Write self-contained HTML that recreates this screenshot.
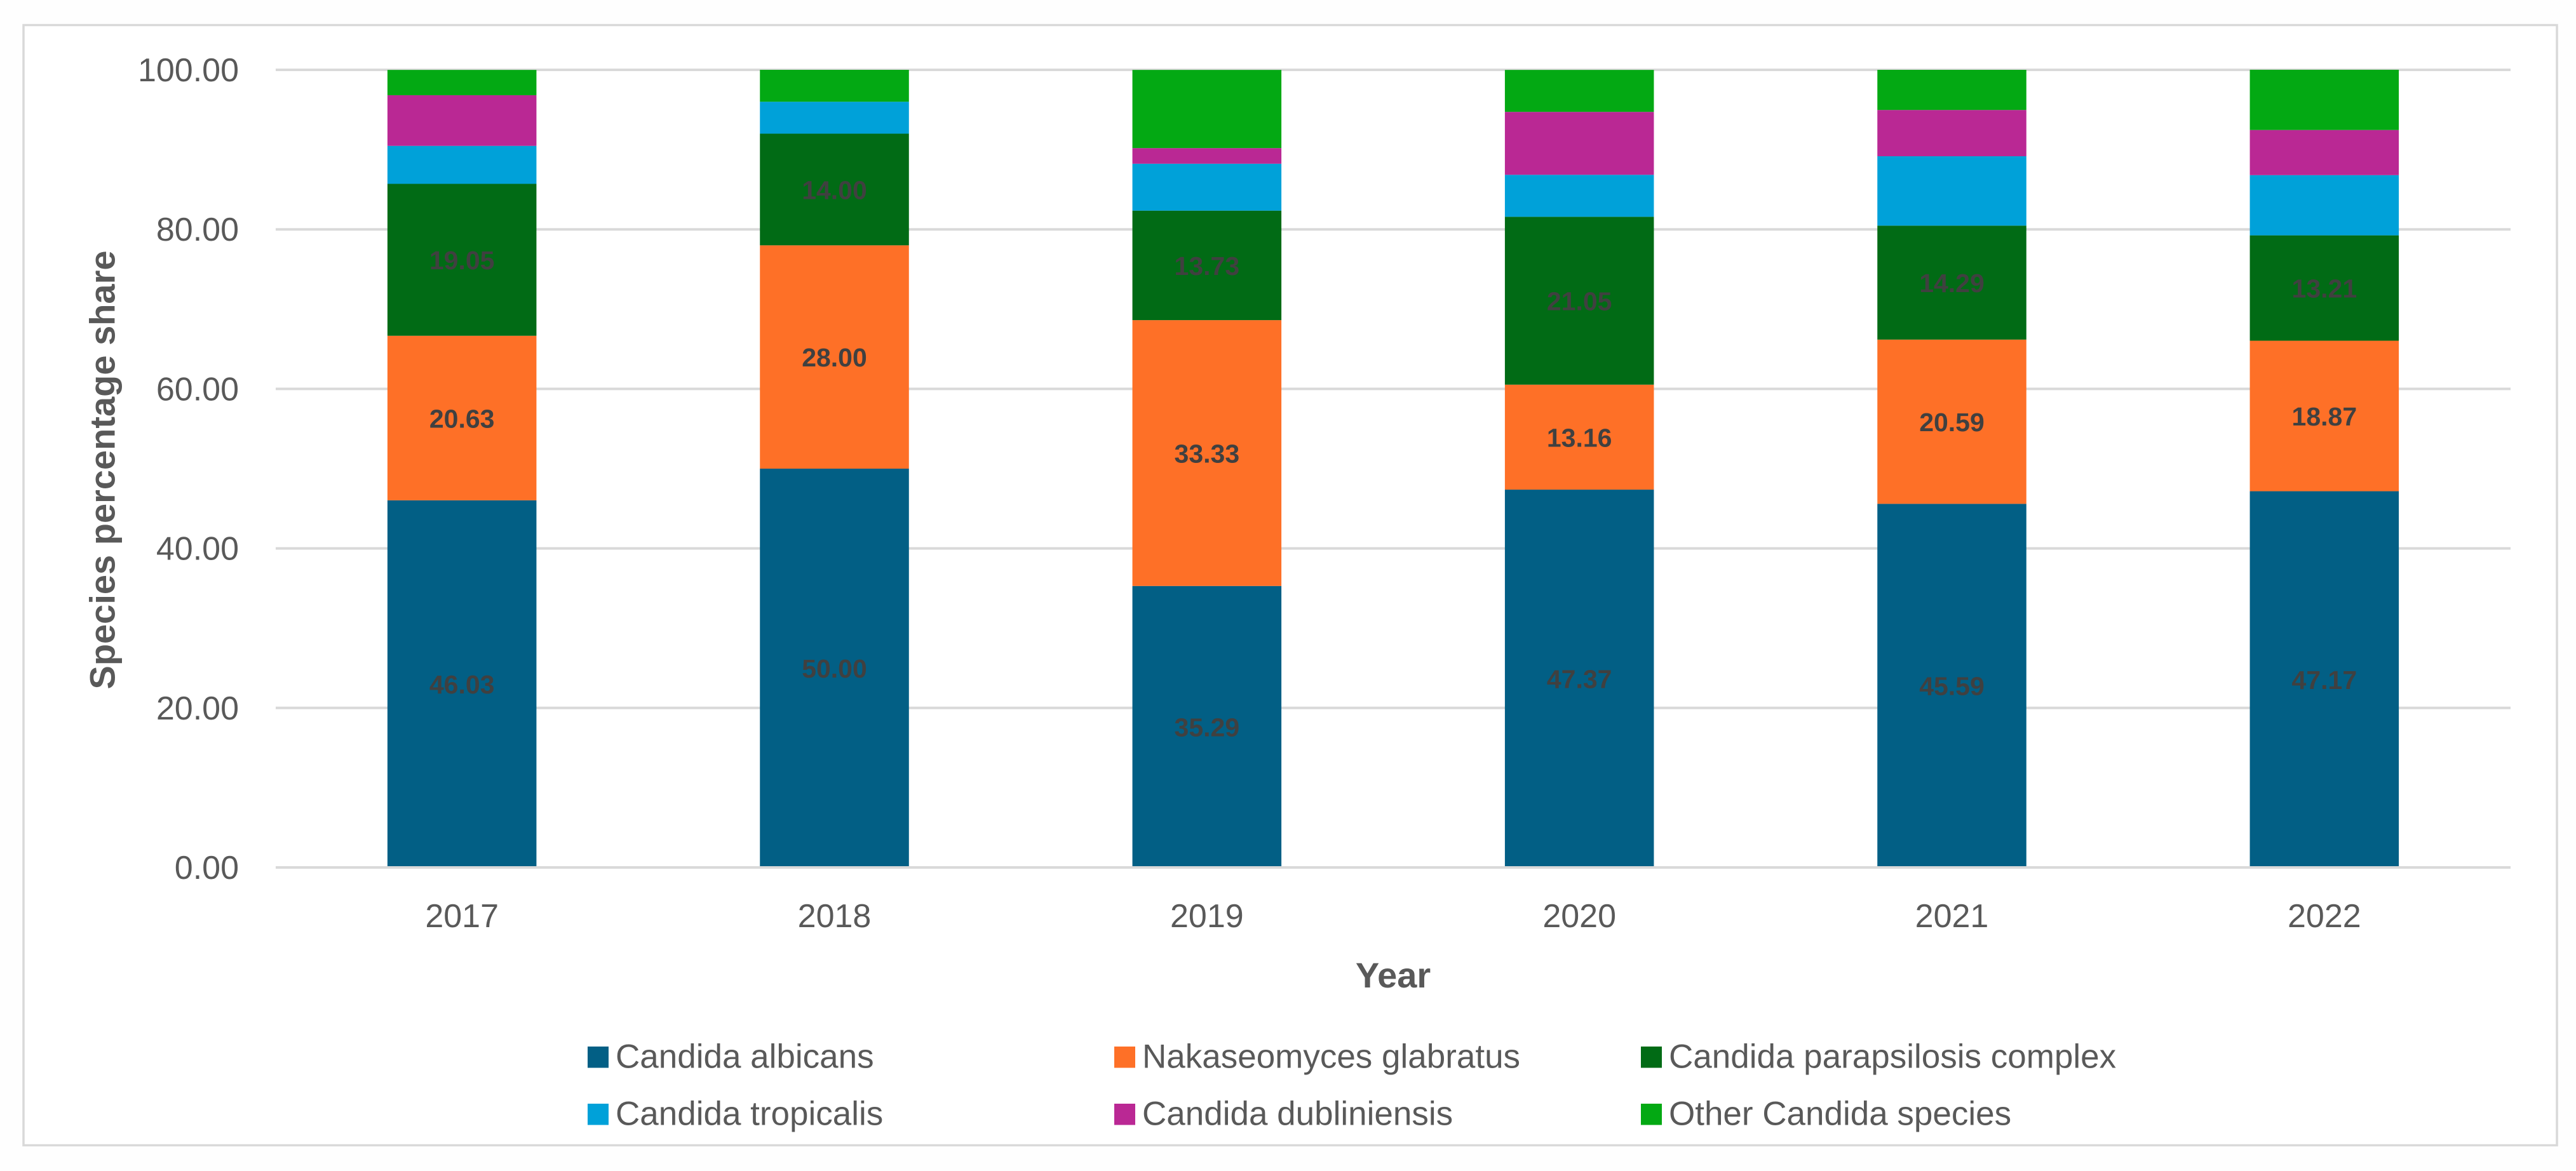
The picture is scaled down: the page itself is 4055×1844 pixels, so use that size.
<!DOCTYPE html>
<html lang="en">
<head>
<meta charset="utf-8">
<title>Candida species percentage share by year</title>
<style>
html,body{margin:0;padding:0;background:#fff;}
svg{display:block;font-family:"Liberation Sans",Arial,sans-serif;}
</style>
</head>
<body>
<svg id="chart" xmlns="http://www.w3.org/2000/svg" width="4055" height="1844" viewBox="0 0 4055 1844">
  <rect x="0" y="0" width="4055" height="1844" fill="#fefefe"/>
  <rect x="37" y="39.5" width="3988" height="1764" fill="#ffffff" stroke="#d9d9d9" stroke-width="3.5"/>
  <g id="grid"></g>
  <g id="y-ticks"></g>
  <g id="bars"></g>
  <g id="labels"></g>
  <g id="x-ticks"></g>
  <text transform="translate(180.5 740) rotate(-90)" text-anchor="middle" font-size="56" font-weight="700" fill="#595959">Species percentage share</text>
  <text x="2193" y="1555" text-anchor="middle" font-size="56" font-weight="700" fill="#595959">Year</text>
  <g id="legend"></g>
</svg>
<script>
const categories = ["2017", "2018", "2019", "2020", "2021", "2022"];
const albicans = [46.03, 50.00, 35.29, 47.37, 45.59, 47.17];
const glabratus = [20.63, 28.00, 33.33, 13.16, 20.59, 18.87];
const parapsilosis = [19.05, 14.00, 13.73, 21.05, 14.29, 13.21];
const tropicalis = [4.76, 4.00, 5.88, 5.26, 8.70, 7.55];
const dubliniensis = [6.35, 0.00, 1.96, 7.89, 5.80, 5.66];
const otherSpecies = [3.17, 4.00, 9.80, 5.26, 5.03, 7.55];
const seriesNames = ["Candida albicans", "Nakaseomyces glabratus", "Candida parapsilosis complex", "Candida tropicalis", "Candida dubliniensis", "Other Candida species"];
const seriesColors = ["#025f85", "#fe7027", "#016b15", "#00a1d9", "#ba2894", "#03a913"];
const yTickValues = [0, 20, 40, 60, 80, 100];
const labelledSeriesCount = 3;

const series = [albicans, glabratus, parapsilosis, tropicalis, dubliniensis, otherSpecies];
const plotLeft = 434, plotRight = 3952, plotTop = 110, plotBottom = 1366, yMax = 100;
const barWidthRatio = 0.4;
const SVGNS = "http://www.w3.org/2000/svg";

function yScale(v) { return plotBottom - (v / yMax) * (plotBottom - plotTop); }
function bandWidth() { return (plotRight - plotLeft) / categories.length; }
function xCenter(i) { return plotLeft + bandWidth() * (i + 0.5); }
function make(tag, attrs, parent) {
  const el = document.createElementNS(SVGNS, tag);
  Object.keys(attrs).forEach(function (k) { el.setAttribute(k, attrs[k]); });
  parent.appendChild(el);
  return el;
}
function slug(s) { return s.toLowerCase().replace(/\s+/g, "-"); }

const gridG = document.getElementById("grid");
const yTicksG = document.getElementById("y-ticks");
const barsG = document.getElementById("bars");
const labelsG = document.getElementById("labels");
const xTicksG = document.getElementById("x-ticks");
const legendG = document.getElementById("legend");

yTickValues.forEach(function (v) {
  if (v !== 0) {
    const line = make("line", { x1: plotLeft, x2: plotRight, y1: yScale(v), y2: yScale(v), stroke: "#d9d9d9", "stroke-width": 4 }, gridG);
    
    
  }
  const t = make("text", { x: 376, y: yScale(v) + 18, "text-anchor": "end", "font-size": 52, fill: "#595959" }, yTicksG);
  t.textContent = v.toFixed(2);
  
  
});

categories.forEach(function (cat, i) {
  const w = bandWidth() * barWidthRatio;
  const cx = xCenter(i);
  let cum = 0;
  series.forEach(function (vals, s) {
    const v = vals[i];
    const yTop = yScale(cum + v);
    const yBot = yScale(cum);
    const r = make("rect", { x: cx - w / 2, y: yTop, width: w, height: Math.max(0, yBot - yTop), fill: seriesColors[s] }, barsG);
    
    
    if (s < labelledSeriesCount) {
      const t = make("text", { x: cx, y: (yTop + yBot) / 2 + 15, "text-anchor": "middle", "font-size": 41, "font-weight": 700, fill: "#404040" }, labelsG);
      t.textContent = v.toFixed(2);
      
      
    }
    cum += v;
  });
  const xt = make("text", { x: cx, y: 1460, "text-anchor": "middle", "font-size": 52, fill: "#595959" }, xTicksG);
  xt.textContent = cat;
  
  
});

const baseline = make("line", { x1: plotLeft, x2: plotRight, y1: plotBottom, y2: plotBottom, stroke: "#d9d9d9", "stroke-width": 4 }, gridG.parentNode);



const legendCols = [925, 1754, 2583];
const legendRows = [1648, 1738];
seriesNames.forEach(function (name, s) {
  const col = s % 3;
  const row = Math.floor(s / 3);
  const g = make("g", {}, legendG);
  
  
  const sw = make("rect", { x: legendCols[col], y: legendRows[row], width: 33, height: 33.5, fill: seriesColors[s] }, g);
  
  
  const t = make("text", { x: legendCols[col] + 44, y: legendRows[row] + 33.5, "font-size": 53, fill: "#595959" }, g);
  t.textContent = name;
  
  
});
</script>
</body>
</html>
